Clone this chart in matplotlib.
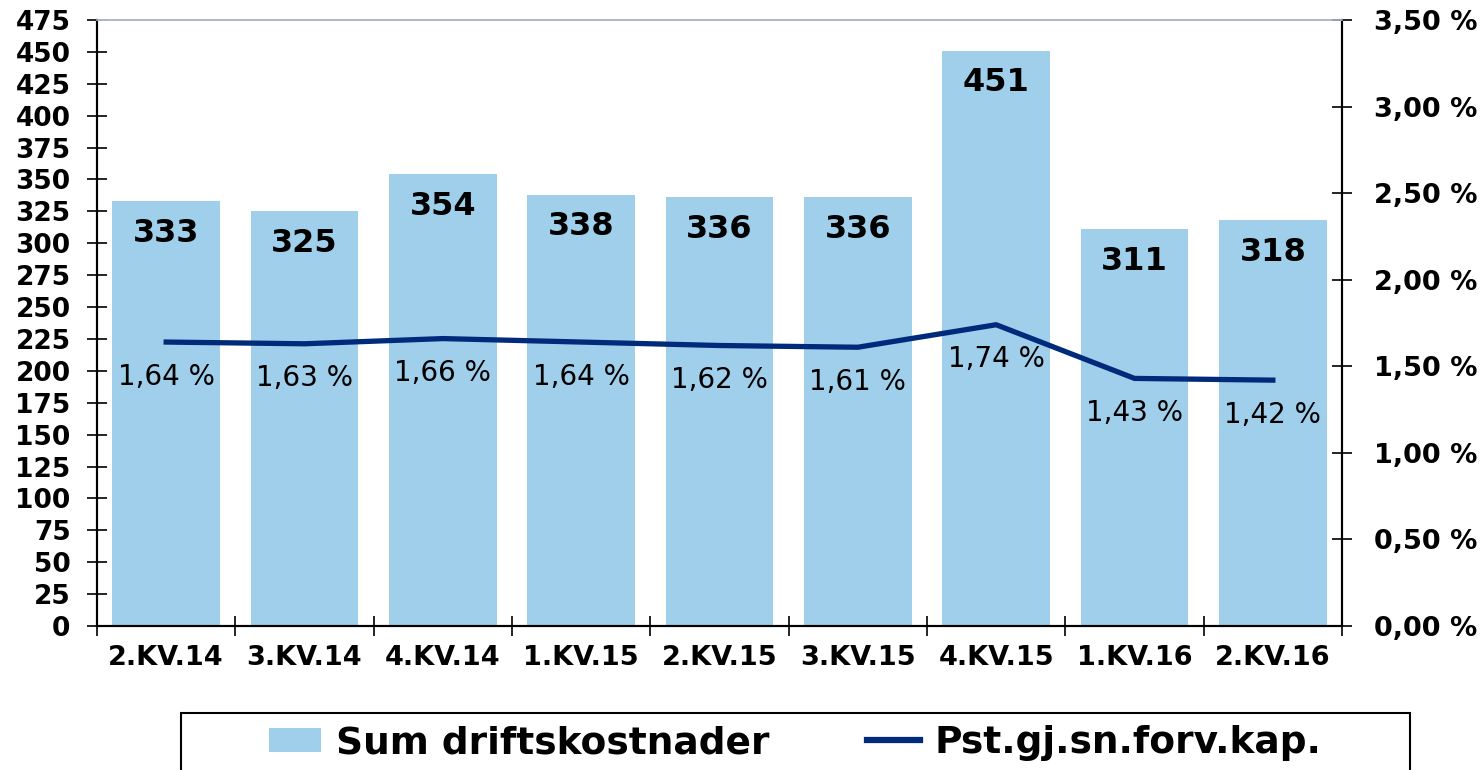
import matplotlib
matplotlib.use("Agg")
import matplotlib.pyplot as plt
from matplotlib.patches import Patch, Rectangle
from matplotlib.lines import Line2D

quarters = ["2.KV.14", "3.KV.14", "4.KV.14", "1.KV.15", "2.KV.15",
            "3.KV.15", "4.KV.15", "1.KV.16", "2.KV.16"]
driftskostnader = [333, 325, 354, 338, 336, 336, 451, 311, 318]
pst_forv_kap = [1.64, 1.63, 1.66, 1.64, 1.62, 1.61, 1.74, 1.43, 1.42]

bar_color = "#a0cfeb"
line_color = "#002a7a"

plt.rcParams['font.family'] = ['DejaVu Sans']

fig = plt.figure(figsize=(14.84, 7.70), dpi=100)
ax = fig.add_axes([97/1484, 1 - 626/770, (1342-97)/1484, (626-20)/770])
ax2 = ax.twinx()

x = list(range(len(quarters)))
ax.bar(x, driftskostnader, width=0.78, color=bar_color, zorder=1)
for xi, v in zip(x, driftskostnader):
    ax.annotate(str(v), (xi, v), xytext=(0, -23), textcoords="offset points",
                ha="center", va="center", fontsize=23, fontweight="bold")

ax.set_xlim(-0.5, len(quarters) - 0.5)
ax.set_ylim(0, 475)
ax.set_yticks(range(0, 476, 25))
ax.set_yticklabels([str(t) for t in range(0, 476, 25)], fontsize=19, fontweight="bold")
ax.set_xticks([i - 0.5 for i in range(len(quarters) + 1)])
ax.set_xticklabels([])
ax.set_xticks(x, minor=True)
ax.set_xticklabels(quarters, minor=True, fontsize=19.5, fontweight="bold")
ax.tick_params(axis="x", which="major", direction="inout", length=14, width=1.2)
ax.tick_params(axis="x", which="minor", length=0, pad=14)
ax.tick_params(axis="y", direction="inout", length=14, width=1.2, pad=12)

ax2.plot(x, pst_forv_kap, color=line_color, lw=3.8, zorder=3)
for xi, v in zip(x, pst_forv_kap):
    ax2.annotate(("%.2f %%" % v).replace(".", ","), (xi, v), xytext=(0, -25),
                 textcoords="offset points", ha="center", va="center", fontsize=20)
ax2.set_ylim(0, 3.5)
yt = [i * 0.5 for i in range(8)]
ax2.set_yticks(yt)
ax2.set_yticklabels([("%.2f %%" % t).replace(".", ",") for t in yt], fontsize=19.5, fontweight="bold")
ax2.tick_params(axis="y", direction="inout", length=14, width=1.2, pad=16)

for a in (ax, ax2):
    a.spines["top"].set_color("#a9bcc8")
    a.spines["top"].set_linewidth(1.2)
    for s in ("left", "right", "bottom"):
        a.spines[s].set_linewidth(1.5)

handles = [Patch(facecolor=bar_color, edgecolor="none"),
           Line2D([0], [0], color=line_color, lw=4.5)]
leg = fig.legend(handles, ["Sum driftskostnader", "Pst.gj.sn.forv.kap."],
                 loc="center", bbox_to_anchor=(0.536, 1 - 743/770), ncol=2,
                 frameon=False, prop={"size": 27, "weight": "bold"},
                 handlelength=1.4, handleheight=0.6, handletextpad=0.4,
                 columnspacing=2.6, borderpad=0, borderaxespad=0)

# legend box, running past the bottom edge like the original
fig.patches.append(Rectangle((181/1484, -0.05), (1410-181)/1484, 0.05 + 1 - 713/770,
                             transform=fig.transFigure, fill=False,
                             edgecolor="black", linewidth=1.5))

fig.savefig("out.png", dpi=100)
